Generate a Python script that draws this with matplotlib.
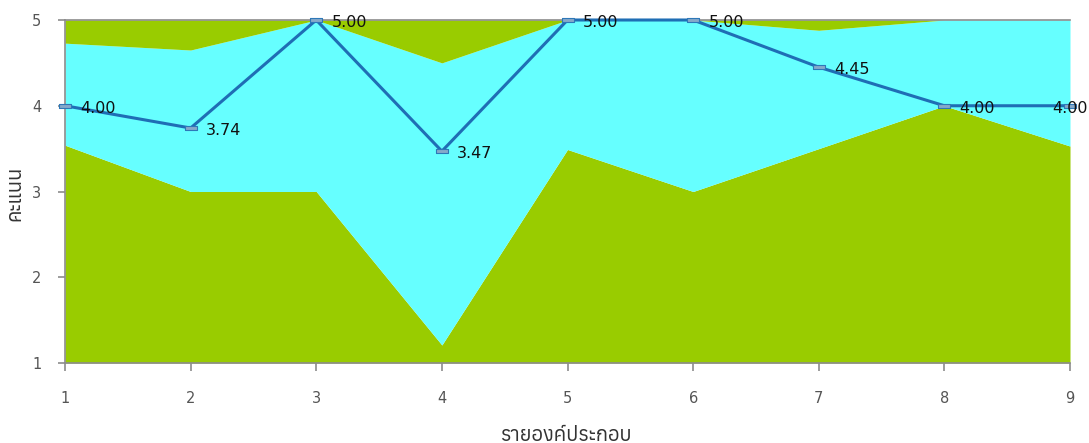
import matplotlib
matplotlib.use("Agg")
import matplotlib.pyplot as plt
from matplotlib import font_manager as fm
from matplotlib.ft2font import FT2Font

# ---- data ----
items = [1, 2, 3, 4, 5, 6, 7, 8, 9]
lower = [3.54, 3.00, 3.00, 1.21, 3.49, 3.00, 3.50, 4.00, 3.53]
upper = [4.73, 4.65, 5.00, 4.50, 5.00, 5.00, 4.88, 5.00, 5.00]
scores = [4.00, 3.74, 5.00, 3.47, 5.00, 5.00, 4.45, 4.00, 4.00]
yticks = [1, 2, 3, 4, 5]
xlabel = "รายองค์ประกอบ"
ylabel = "คะแนน"

# find a font with Thai glyphs
thai_fonts = []
for f in fm.fontManager.ttflist:
    try:
        if 0x0E23 in FT2Font(f.fname).get_charmap():
            thai_fonts.append(f.name)
    except Exception:
        pass
thai_fonts = sorted(set(thai_fonts))
fam = ["DejaVu Sans"] + thai_fonts

GREEN = "#99CC00"
CYAN = "#66FFFF"
LINE = "#1F6EB5"

W, H = 1089, 443
fig = plt.figure(figsize=(W / 100, H / 100), dpi=100)
ax = fig.add_axes([65 / W, 1 - 363 / H, 1005 / W, 343 / H])

ax.fill_between(items, yticks[0], lower, color=GREEN, lw=0)
ax.fill_between(items, lower, upper, color=CYAN, lw=0)
ax.fill_between(items, upper, yticks[-1], color=GREEN, lw=0)

rect = [(-1, -0.3), (1, -0.3), (1, 0.3), (-1, 0.3), (-1, -0.3)]
ax.plot(items, scores, color=LINE, lw=2.2, marker=rect, markersize=8.5,
        markerfacecolor="#86A9C9", markeredgecolor="#2E78B8", markeredgewidth=0.8,
        clip_on=False, zorder=5)
for i, (x, y) in enumerate(zip(items, scores)):
    last = i == len(items) - 1
    ax.annotate(f"{y:.2f}", (x, y), xytext=((0 if last else 11), -2),
                textcoords="offset points",
                ha=("center" if last else "left"), va="center", fontsize=11.5,
                color="#111111", family="DejaVu Sans",
                annotation_clip=False, zorder=6)

ax.set_xlim(items[0], items[-1])
ax.set_ylim(yticks[0], yticks[-1])
ax.set_xticks(items)
ax.set_yticks(yticks)
for s in ["left", "bottom", "top"]:
    ax.spines[s].set_color("#8C8C8C")
    ax.spines[s].set_linewidth(1.2)
ax.spines["right"].set_visible(False)
ax.tick_params(axis="x", direction="out", length=6, width=1.2, color="#8C8C8C",
               pad=14, labelsize=10.5, labelcolor="#555555")
ax.tick_params(axis="y", direction="out", length=5, width=1.2, color="#8C8C8C",
               pad=12, labelsize=10.5, labelcolor="#555555")

fig.text(566 / W, 1 - 426 / H, xlabel, family=fam, fontsize=14.5,
         color="#333333", ha="center", va="top")
fig.text(15 / W, 1 - 193 / H, ylabel, family=fam, fontsize=14.5,
         color="#333333", ha="center", va="center", rotation=90)

fig.savefig("out.png", dpi=100)
